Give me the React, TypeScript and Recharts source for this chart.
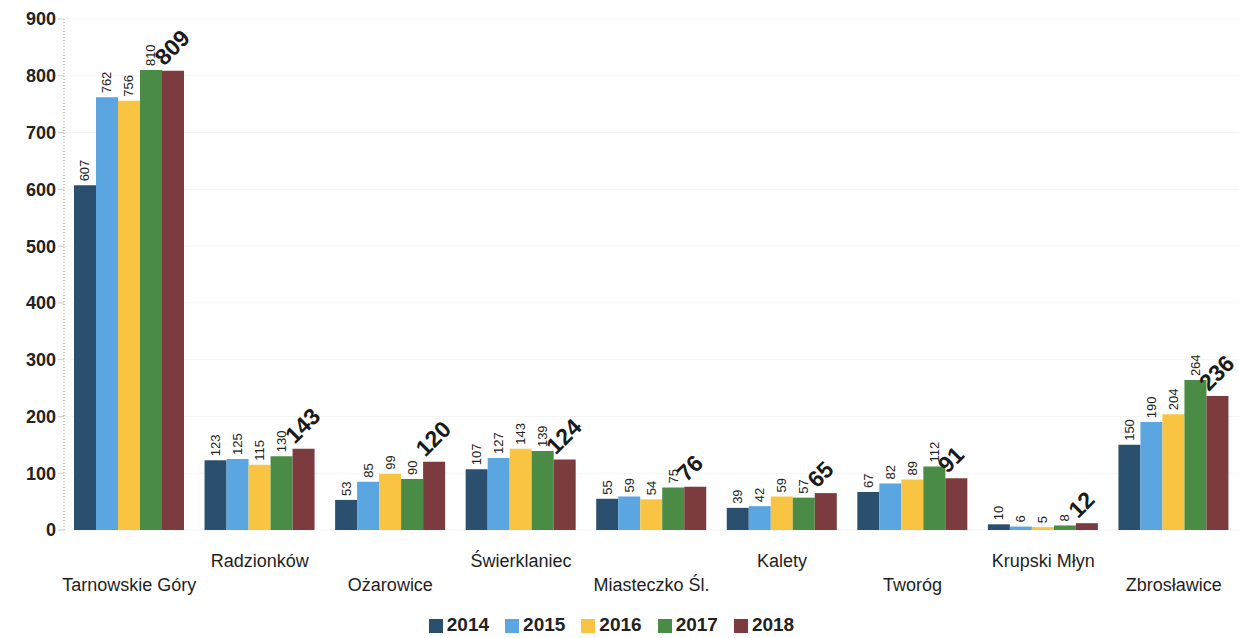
import { Bar, BarChart, CartesianGrid, Legend, LabelList, XAxis, YAxis } from "recharts";

const gminy = [
  "Tarnowskie Góry",
  "Radzionków",
  "Ożarowice",
  "Świerklaniec",
  "Miasteczko Śl.",
  "Kalety",
  "Tworóg",
  "Krupski Młyn",
  "Zbrosławice",
];

const v2014 = [607, 123, 53, 107, 55, 39, 67, 10, 150];
const v2015 = [762, 125, 85, 127, 59, 42, 82, 6, 190];
const v2016 = [756, 115, 99, 143, 54, 59, 89, 5, 204];
const v2017 = [810, 130, 90, 139, 75, 57, 112, 8, 264];
const v2018 = [809, 143, 120, 124, 76, 65, 91, 12, 236];

const yTicks = [0, 100, 200, 300, 400, 500, 600, 700, 800, 900];

const series = [
  { key: "2014", color: "#2b4f6e" },
  { key: "2015", color: "#5ba6e1" },
  { key: "2016", color: "#f8c442" },
  { key: "2017", color: "#4a8c45" },
  { key: "2018", color: "#7c3b3f" },
];

const data = gminy.map((name, i) => ({
  name,
  "2014": v2014[i],
  "2015": v2015[i],
  "2016": v2016[i],
  "2017": v2017[i],
  "2018": v2018[i],
}));

const FONT = "'Liberation Sans', Arial, sans-serif";

function CategoryTick(props: any) {
  const { x, y, payload, index } = props;
  const dy = index % 2 === 0 ? 53 : 29;
  return (
    <text x={x} y={y + dy} textAnchor="middle" fontSize={18} fill="#1e1e1e" fontFamily={FONT}>
      {payload.value}
    </text>
  );
}

function SmallLabel(props: any) {
  const { x, y, width, value } = props;
  const cx = x + width / 2;
  const cy = y - 4;
  return (
    <text
      x={cx}
      y={cy}
      transform={`rotate(-90 ${cx} ${cy})`}
      textAnchor="start"
      dominantBaseline="central"
      fontSize={13}
      fill="#222"
      fontFamily={FONT}
    >
      {value}
    </text>
  );
}

function BigLabel(props: any) {
  const { x, y, width, value } = props;
  const lx = x + width * 0.1;
  const ly = y - 4;
  return (
    <text
      x={lx}
      y={ly}
      transform={`rotate(-45 ${lx} ${ly})`}
      textAnchor="start"
      fontSize={23}
      fontWeight="bold"
      fill="#1a1a1a"
      fontFamily={FONT}
    >
      {value}
    </text>
  );
}

export default function App() {
  return (
    <div style={{ position: "absolute", left: 0, top: 0, width: 1239, height: 638, background: "#fff" }}>
      <BarChart
        width={1239}
        height={638}
        data={data}
        margin={{ top: 19, right: 0, bottom: 0, left: 0 }}
        barCategoryGap={10}
        barGap={0}
      >
        <CartesianGrid vertical={false} stroke="#f4f4f4" />
        <XAxis
          dataKey="name"
          tick={<CategoryTick />}
          tickLine={false}
          axisLine={false}
          height={78}
          interval={0}
        />
        <YAxis
          domain={[0, 900]}
          ticks={yTicks}
          width={64}
          tick={{ fontSize: 18, fontWeight: "bold", fill: "#222", fontFamily: FONT }}
          tickLine={{ stroke: "#ccc" }}
          axisLine={{ stroke: "#999", strokeDasharray: "1 2" }}
          interval={0}
        />
        <Legend
          verticalAlign="bottom"
          height={30}
          iconType="square"
          iconSize={14}
          wrapperStyle={{ top: 614, fontFamily: FONT, fontSize: 19, fontWeight: "bold", color: "#222" }}
          formatter={(value) => <span style={{ color: "#222", marginRight: 6 }}>{value}</span>}
        />
        {series.map((s) => (
          <Bar key={s.key} dataKey={s.key} fill={s.color} isAnimationActive={false}>
            <LabelList dataKey={s.key} content={s.key === "2018" ? <BigLabel /> : <SmallLabel />} />
          </Bar>
        ))}
      </BarChart>
    </div>
  );
}
